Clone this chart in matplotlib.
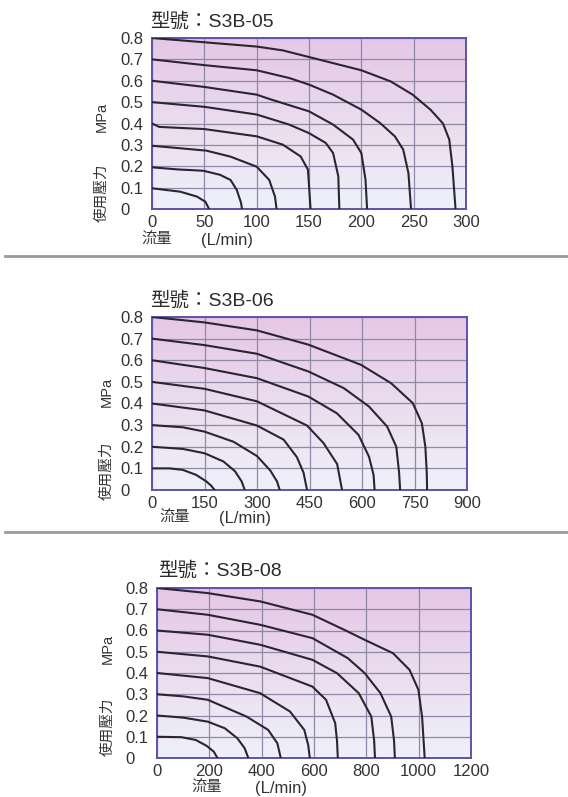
import numpy as np
import matplotlib
matplotlib.use("Agg")
import matplotlib.pyplot as plt
from matplotlib.colors import LinearSegmentedColormap

plt.rcParams['font.family'] = ['Liberation Sans', 'Noto Sans CJK TC', 'DejaVu Sans']

W, H = 568, 797

# ---- data: S3B-05 (flow L/min vs pressure MPa) ----
s05_xticks = [0, 50, 100, 150, 200, 250, 300]
s05_x = [
    [0, 50, 100, 125, 150, 200, 228, 249, 266, 278, 284, 287, 290],
    [0, 50, 100, 131, 150, 173, 200, 218, 232, 240, 245, 247.5],
    [0, 50, 100, 112, 150, 173, 192, 200, 204, 205.5],
    [0, 50, 100, 131, 150, 166, 173, 178, 179],
    [0, 7, 50, 100, 125, 142, 149, 151.5],
    [0, 52, 75, 100, 112, 117.5, 119],
    [0, 25, 49, 65, 75, 81, 85, 86],
    [0, 27, 43, 51, 54.5],
]
s05_p = [
    [0.80, 0.78, 0.76, 0.742, 0.711, 0.649, 0.597, 0.535, 0.465, 0.40, 0.325, 0.20, 0],
    [0.70, 0.673, 0.649, 0.613, 0.582, 0.535, 0.465, 0.402, 0.340, 0.278, 0.168, 0],
    [0.60, 0.571, 0.535, 0.515, 0.457, 0.395, 0.325, 0.262, 0.137, 0],
    [0.50, 0.478, 0.442, 0.395, 0.355, 0.309, 0.262, 0.153, 0],
    [0.40, 0.384, 0.374, 0.340, 0.301, 0.246, 0.184, 0],
    [0.296, 0.273, 0.245, 0.198, 0.136, 0.058, 0],
    [0.195, 0.185, 0.179, 0.16, 0.136, 0.089, 0.03, 0],
    [0.097, 0.081, 0.058, 0.034, 0],
]

# ---- data: S3B-06 ----
s06_xticks = [0, 150, 300, 450, 600, 750, 900]
s06_x = [
    [0, 150, 300, 447, 597, 683, 745, 771, 781, 785, 786],
    [0, 150, 300, 447, 548, 620, 672, 698, 706, 709],
    [0, 150, 300, 447, 528, 590, 620, 633, 636],
    [0, 150, 300, 443, 490, 529, 543],
    [0, 150, 300, 376, 414, 433, 443],
    [0, 88, 150, 233, 300, 338, 357, 365],
    [0, 88, 150, 204, 237, 256, 265],
    [0, 50, 88, 126, 155, 169, 179],
]
s06_p = [
    [0.80, 0.775, 0.738, 0.672, 0.579, 0.494, 0.402, 0.309, 0.20, 0.08, 0],
    [0.70, 0.67, 0.63, 0.548, 0.471, 0.386, 0.293, 0.20, 0.08, 0],
    [0.60, 0.564, 0.517, 0.432, 0.355, 0.255, 0.154, 0.07, 0],
    [0.50, 0.468, 0.41, 0.298, 0.217, 0.12, 0],
    [0.40, 0.368, 0.298, 0.233, 0.152, 0.08, 0],
    [0.30, 0.29, 0.27, 0.223, 0.157, 0.09, 0.04, 0],
    [0.20, 0.19, 0.17, 0.132, 0.087, 0.04, 0],
    [0.10, 0.10, 0.093, 0.07, 0.04, 0.02, 0],
]

# ---- data: S3B-08 ----
s08_xticks = [0, 200, 400, 600, 800, 1000, 1200]
s08_x = [
    [0, 194, 394, 594, 716, 794, 902, 965, 999, 1013, 1023],
    [0, 194, 394, 594, 729, 794, 854, 895, 906, 909],
    [0, 194, 394, 594, 688, 771, 819, 830, 833],
    [0, 194, 394, 594, 646, 681, 688, 691],
    [0, 194, 394, 508, 563, 578, 584],
    [0, 100, 194, 342, 425, 460, 473],
    [0, 100, 194, 259, 307, 335, 349],
    [0, 93, 148, 190, 217, 231],
]
s08_p = [
    [0.80, 0.776, 0.737, 0.674, 0.603, 0.556, 0.493, 0.415, 0.321, 0.195, 0],
    [0.70, 0.674, 0.627, 0.564, 0.47, 0.399, 0.305, 0.195, 0.08, 0],
    [0.60, 0.58, 0.533, 0.462, 0.399, 0.305, 0.195, 0.08, 0],
    [0.50, 0.478, 0.43, 0.336, 0.274, 0.164, 0.08, 0],
    [0.40, 0.376, 0.305, 0.219, 0.132, 0.06, 0],
    [0.30, 0.29, 0.274, 0.195, 0.132, 0.069, 0],
    [0.20, 0.19, 0.171, 0.14, 0.093, 0.046, 0],
    [0.10, 0.098, 0.085, 0.057, 0.03, 0],
]

yticks = [0, 0.1, 0.2, 0.3, 0.4, 0.5, 0.6, 0.7, 0.8]
ytick_labels = ["0", "0.1", "0.2", "0.3", "0.4", "0.5", "0.6", "0.7", "0.8"]

charts = [
    # title, xticks, xs, ps, axes box (l, t, r, b), title pos, MPa y, 使用壓力 y, ylabel x, 流量 x, (L/min) x, xlabel y
    ("型號：S3B-05", s05_xticks, s05_x, s05_p, (152, 38, 466, 209), (150, 21), 117, 193, 102, 157, 227, 240),
    ("型號：S3B-06", s06_xticks, s06_x, s06_p, (152, 317, 467, 490), (150, 300), 392, 471, 107, 175, 245, 518),
    ("型號：S3B-08", s08_xticks, s08_x, s08_p, (157, 588, 471, 758), (158, 570), 649, 727, 108, 207, 281, 788),
]

bg = LinearSegmentedColormap.from_list(
    "bg", [(0, "#eef1fa"), (0.35, "#ece3f1"), (1, "#e5c7e5")])

fig = plt.figure(figsize=(W / 100, H / 100), dpi=100)
fig.patch.set_facecolor("white")


def px(x, y):
    return x / W, 1 - y / H


for title, xt, xs, ps, (l, t, r, b), tpos, mpa_y, use_y, ylx, flx, unx, xly in charts:
    ax = fig.add_axes([l / W, 1 - b / H, (r - l) / W, (b - t) / H])
    xmax = xt[-1]
    grad = np.linspace(0, 1, 256).reshape(-1, 1)
    ax.imshow(grad, extent=[0, xmax, 0, 0.8], origin="lower", aspect="auto",
              cmap=bg, zorder=0)
    for xv, pv in zip(xs, ps):
        ax.plot(xv, pv, color="#2b2433", lw=1.5, zorder=3,
                solid_joinstyle="round", solid_capstyle="round")
    ax.set_xlim(0, xmax)
    ax.set_ylim(0, 0.8)
    ax.set_xticks(xt)
    ax.set_xticklabels([str(v) for v in xt])
    ax.set_yticks(yticks)
    ax.set_yticklabels(ytick_labels)
    ax.set_axisbelow(True)
    ax.grid(True, color="#8f89a8", lw=0.9)
    for s in ax.spines.values():
        s.set_color("#5d54a8")
        s.set_linewidth(1.4)
    ax.tick_params(axis="both", length=0, labelsize=12, labelcolor="#333333")
    ax.tick_params(axis="x", pad=4)
    ax.tick_params(axis="y", pad=23)
    for lab in ax.get_yticklabels():
        lab.set_horizontalalignment("left")

    fig.text(*px(*tpos), title, fontsize=14, color="#2a2a2a", ha="left", va="center")
    fig.text(*px(ylx, mpa_y), "MPa", fontsize=10.5, color="#333333", rotation=90,
             ha="center", va="center")
    fig.text(*px(ylx, use_y), "使用壓力", fontsize=10.5, color="#333333", rotation=90,
             ha="center", va="center")
    fig.text(*px(flx, xly), "流量", fontsize=11, color="#333333", ha="center", va="center")
    fig.text(*px(unx, xly), "(L/min)", fontsize=12, color="#333333", ha="center", va="center")

# separators between the three charts
for ys in (256, 532):
    fig.add_artist(plt.Line2D([5 / W, 1], [1 - ys / H] * 2, color="#9a9a9a", lw=2))

fig.savefig("out.png", dpi=100)
